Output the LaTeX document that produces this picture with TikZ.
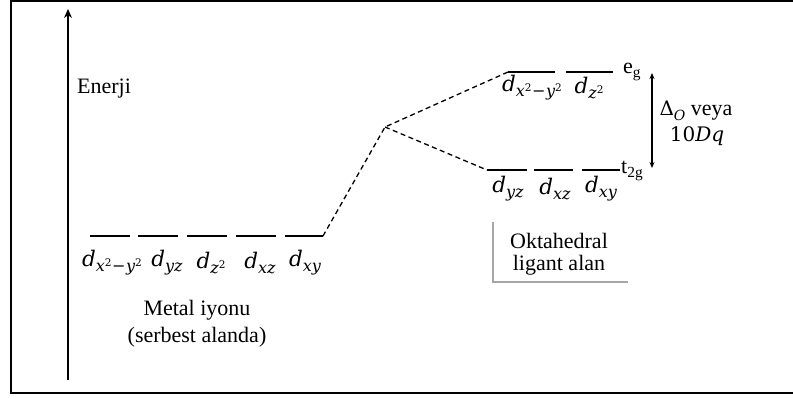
\documentclass[tikz,border=0pt]{standalone}
\usepackage{fontspec}
\setmainfont{Liberation Serif}
\newfontfamily\mfont{DejaVu Serif}
\usetikzlibrary{arrows.meta}
\newcommand\sq{\raisebox{0.6ex}{\upshape\fontsize{10.5}{10}\selectfont 2}}
\newcommand\dl[1]{{\mfont\itshape\fontsize{21.5}{22}\selectfont d\raisebox{-0.45ex}{\fontsize{16}{16}\selectfont #1}}}
\newcommand\xmy{x\sq{\upshape\kern0.5pt−\kern0.5pt}y\sq}
\begin{document}
\begin{tikzpicture}[x=1pt,y=-1pt,
  txt/.style={font=\fontsize{22}{25}\selectfont, inner sep=0pt},
  mlab/.style={inner sep=0pt},
  level/.style={line width=1.6pt},
  conn/.style={line width=1.3pt, dash pattern=on 5pt off 3.5pt},
  frame/.style={line width=2.2pt},
  boxline/.style={line width=1.3pt, draw=black!35}]
\useasboundingbox (0,0) rectangle (793,399);
% frame (open on the right)
\draw[frame] (793,1.1) -- (11.1,1.1) -- (11.1,392.9) -- (793,392.9);
% energy axis
\coordinate (axb) at (68,380);
\coordinate (axt) at (68,9);
\draw[line width=1.3pt,-{Stealth[length=9pt,width=8pt]}] (axb) -- (axt);
\node[txt,anchor=west] (en) at (77,89) {Enerji};
% free ion levels
\foreach \i/\xa/\xb in {1/90/130,2/138/178,3/187/227,4/236/276,5/285/323}{
  \coordinate (L\i a) at (\xa,236);
  \coordinate (L\i b) at (\xb,236);
  \draw[level] (L\i a) -- (L\i b);
}
\node[mlab] (l1) at (112,263) {\dl{\xmy}};
\node[mlab] (l2) at (167,263) {\dl{yz}};
\node[mlab] (l3) at (211,263) {\dl{z\sq}};
\node[mlab] (l4) at (260,263) {\dl{xz}};
\node[mlab] (l5) at (305,263) {\dl{xy}};
\node[txt] (mi) at (197,310) {Metal iyonu};
\node[txt] (sa) at (197,337) {(serbest alanda)};
% barycentre
\coordinate (apex) at (385,127);
% eg levels
\coordinate (E1a) at (508,72); \coordinate (E1b) at (555,72);
\coordinate (E2a) at (566,72); \coordinate (E2b) at (613,72);
\draw[level] (E1a) -- (E1b);
\draw[level] (E2a) -- (E2b);
\node[mlab] (e1) at (532,88) {\dl{\xmy}};
\node[mlab] (e2) at (589,88) {\dl{z\sq}};
\node[txt,anchor=west] (eg) at (623,72) {e\textsubscript{g}};
% t2g levels
\coordinate (T1a) at (487,170); \coordinate (T1b) at (527,170);
\coordinate (T2a) at (534,170); \coordinate (T2b) at (573,170);
\coordinate (T3a) at (582,170); \coordinate (T3b) at (620,170);
\draw[level] (T1a) -- (T1b);
\draw[level] (T2a) -- (T2b);
\draw[level] (T3a) -- (T3b);
\node[mlab] (t1) at (508,189) {\dl{yz}};
\node[mlab] (t2) at (555,189) {\dl{xz}};
\node[mlab] (t3) at (601,189) {\dl{xy}};
\node[txt,anchor=west] (tg) at (621,171) {t\textsubscript{2g}};
% dashed correlation lines
\draw[conn] (L5b) -- (apex) -- (E1a);
\draw[conn] (apex) -- (T1a);
% splitting arrow
\coordinate (sa1) at (652,73);
\coordinate (sa2) at (652,168);
\draw[line width=1.3pt,{Stealth[length=6pt,width=5pt]}-{Stealth[length=6pt,width=5pt]}] (sa1) -- (sa2);
\node[txt] (dv) at (696,111) {{\mfont\fontsize{20}{20}\selectfont Δ\raisebox{-0.45ex}{\itshape\fontsize{14}{14}\selectfont O}} veya};
\node[txt] (dq) at (697,136) {{\mfont\fontsize{20}{20}\selectfont 10\textit{Dq}}};
% octahedral ligand field label
\coordinate (bx1) at (493,222);
\coordinate (bx2) at (493,282);
\coordinate (bx3) at (628,282);
\draw[boxline] (bx1) -- (bx2) -- (bx3);
\node[txt] (ok) at (559,241) {Oktahedral};
\node[txt] (la) at (559,265) {ligant alan};
\end{tikzpicture}
\end{document}
